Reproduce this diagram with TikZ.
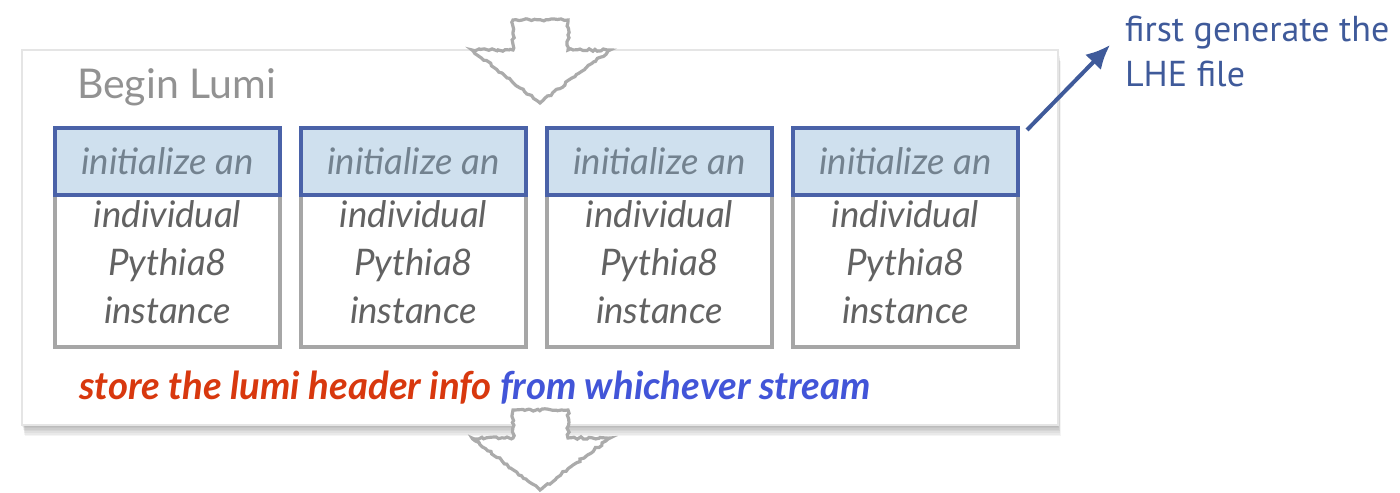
\documentclass[tikz,border=0pt]{standalone}
\usepackage{fontspec}
\setmainfont{Lato}
\newfontfamily\notefont{PT Sans}
\usetikzlibrary{positioning,decorations.pathmorphing,arrows.meta}
\definecolor{boxgray}{HTML}{A6A6A6}
\definecolor{topblue}{HTML}{4A62A8}
\definecolor{topfill}{HTML}{CFE0EE}
\definecolor{textgray}{HTML}{626262}
\definecolor{toptext}{HTML}{73828F}
\definecolor{titlegray}{HTML}{929292}
\definecolor{storered}{HTML}{D8380E}
\definecolor{streamblue}{HTML}{4255D8}
\definecolor{notecolor}{HTML}{3F5A9A}
\definecolor{flowgray}{HTML}{ABABAB}

\begin{document}
\begin{tikzpicture}[x=0.5pt,y=0.5pt,
	panel/.style={draw=black!10,line width=0.6pt,fill=white,minimum width=518pt,minimum height=187.5pt},
	cell/.style={draw=boxgray,line width=2pt,fill=white,minimum width=112.5pt,minimum height=109.5pt,inner sep=0pt},
	celltop/.style={draw=topblue,fill=topfill,line width=2pt,minimum width=112.5pt,minimum height=33.5pt,inner sep=0pt,
		text=toptext,font=\fontsize{18.3}{24}\selectfont\itshape},
	celltext/.style={align=center,text=textgray,font=\fontsize{18.3}{24}\selectfont\itshape},
	flow/.style={draw=flowgray,fill=white,line width=1.6pt,decorate,
		decoration={random steps,segment length=1.5pt,amplitude=0.6pt}},
	linkarrow/.style={draw=notecolor,line width=2pt,-{Latex[length=12pt,width=11pt]}}]
	\useasboundingbox (0,0) rectangle (1400,492);
	\pgfmathsetseed{7}
	% the lumi block, with a soft shadow
	\foreach \k in {1,...,7}
		\fill[black,opacity=0.045] (22+0.4*\k,67-1.6*\k) rectangle (1058+0.4*\k,442-1.6*\k);
	\node[panel] (lumi) at (540,254.5) {};
	\node[anchor=west,text=titlegray,font=\fontsize{20.5}{24}\selectfont] (title) at (70,405) {Begin Lumi};
	\foreach \i in {1,...,4}{
		\node[cell] (b\i) at ({167.5+246*(\i-1)},254.5) {};
		\node[celltop,anchor=north] (b\i t) at (b\i.north) {initialize an};
		\node[celltext] (b\i x) at ({167.5+246*(\i-1)},230) {individual\\Pythia8\\instance};
	}
	\node[anchor=west,font=\fontsize{19.2}{22}\selectfont\bfseries\itshape] (store) at (72,104)
		{\textcolor{storered}{store the lumi header info} \textcolor{streamblue}{from whichever stream}};
	% flow in and out
	\draw[flow] (513,472) -- (568,472) -- (568,442) -- (610,442) -- (540,389) -- (472,442) -- (513,442) -- cycle;
	\draw[flow] (513,82) -- (568,82) -- (568,54) -- (610,54) -- (540,2) -- (472,54) -- (513,54) -- cycle;
	% LHE note
	\node[anchor=north west,align=left,text=notecolor,font=\notefont\fontsize{18}{22.5}\selectfont] (lhe) at (1118,483)
		{first generate the\\LHE file};
	\coordinate (tip) at (1110,447);
	\draw[linkarrow] ([xshift=3.5pt,yshift=-2pt]b4t.north east) -- (tip);
\end{tikzpicture}
\end{document}
